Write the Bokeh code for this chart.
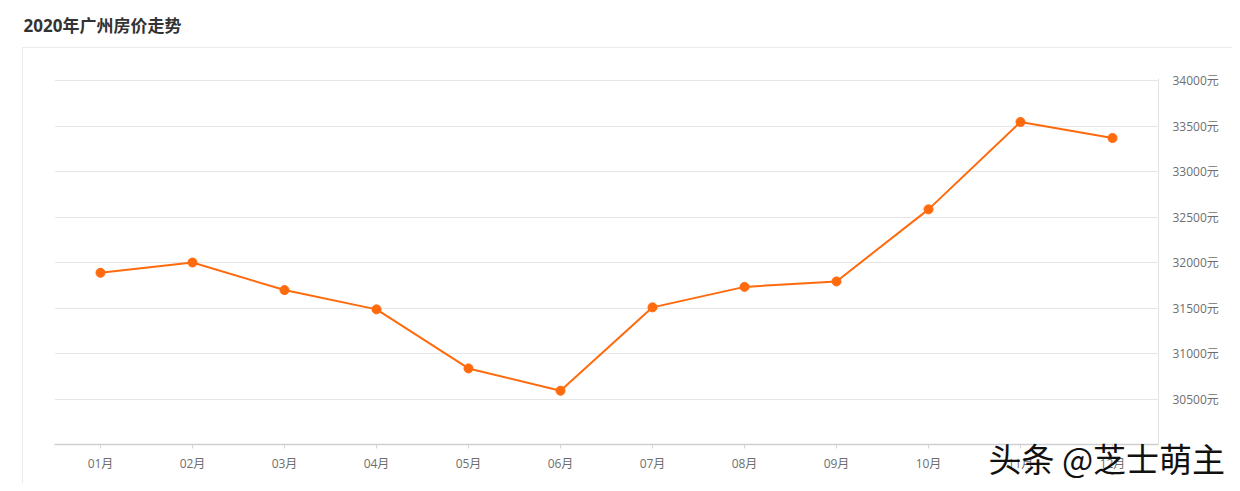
from bokeh.plotting import figure
from bokeh.models import (FactorRange, Range1d, FixedTicker, PrintfTickFormatter,
                          Title, ColumnDataSource)
from bokeh.embed import file_html
from bokeh.resources import INLINE

months = ["01月", "02月", "03月", "04月", "05月", "06月",
          "07月", "08月", "09月", "10月", "11月", "12月"]
prices = [31887, 32000, 31697, 31485, 30836, 30591,
          31507, 31732, 31792, 32584, 33544, 33368]
y_ticks = [30500, 31000, 31500, 32000, 32500, 33000, 33500, 34000]
title_text = "2020年广州房价走势"
watermark = "头条 @芝士萌主"

FONT = "Open Sans, Noto Sans CJK SC"
ORANGE = "#ff6a0d"
BOX = "#ebebeb"

W, H = 1232, 483
p = figure(width=W, height=H, output_backend="svg", toolbar_location=None,
           x_range=FactorRange(*months, range_padding=0),
           y_range=Range1d(30000, 34022), y_axis_location="right",
           min_border_left=54, min_border_right=74,
           min_border_top=78, min_border_bottom=39)
p.outline_line_color = None
p.background_fill_color = "white"
p.border_fill_color = None
# faint panel frame behind the chart (top and left edges)
p.styles = {
    "background-color": "white",
    "background-image": f"linear-gradient({BOX},{BOX}), linear-gradient({BOX},{BOX})",
    "background-size": "1220px 1px, 1px 440px",
    "background-position": "22px 47px, 22px 47px",
    "background-repeat": "no-repeat",
}

src = ColumnDataSource(dict(m=months, v=prices))
p.line("m", "v", source=src, line_color=ORANGE, line_width=2)
p.scatter("m", "v", source=src, size=9, fill_color=ORANGE, line_color=ORANGE)

p.xgrid.grid_line_color = None
p.ygrid.ticker = FixedTicker(ticks=y_ticks)
p.ygrid.grid_line_color = "#e6e6e6"

ya = p.yaxis[0]
ya.ticker = FixedTicker(ticks=y_ticks)
ya.formatter = PrintfTickFormatter(format="%d元")
ya.axis_line_color = "#e3e3e3"
ya.major_tick_line_color = None
ya.minor_tick_line_color = None
ya.major_label_standoff = 8
ya.major_label_text_font = FONT
ya.major_label_text_font_size = "12px"
ya.major_label_text_color = "#6e6e6e"

xa = p.xaxis[0]
xa.axis_line_color = "#d0d0d0"
xa.axis_line_width = 1.5
xa.major_tick_line_color = "#d4d4d4"
xa.major_tick_out = 4
xa.major_tick_in = 0
xa.minor_tick_line_color = None
xa.major_label_standoff = 6
xa.major_label_text_font = FONT
xa.major_label_text_font_size = "12px"
xa.major_label_text_color = "#6e6e6e"

# spacer (blank text) between the frame and the chart title
p.add_layout(Title(text=" ", text_font_size="10px", standoff=27), "above")
p.add_layout(Title(text=title_text, text_font=FONT, text_font_size="17px",
                   text_font_style="bold", text_color="#333333",
                   offset=-31, standoff=4), "above")

# watermark, pulled up over the month labels
p.add_layout(Title(text=watermark, text_font="Noto Sans CJK SC", text_font_size="33px",
                   text_font_style="normal", text_color="#111111",
                   align="left", offset=934, vertical_align="top", standoff=-82), "below")

open("out.html", "w").write(file_html(p, INLINE))
